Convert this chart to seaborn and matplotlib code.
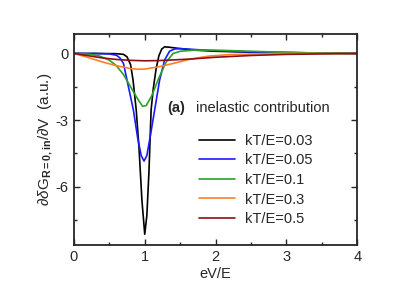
import numpy as np
import pandas as pd
import matplotlib
matplotlib.use("Agg")
import matplotlib.pyplot as plt
import seaborn as sns
from matplotlib.ticker import MultipleLocator

# ---- data ----
x_003 = [0, 0.3, 0.6, 0.7, 0.75, 0.8, 0.835, 0.88, 0.92, 0.96, 1.0, 1.03, 1.06, 1.09, 1.12, 1.16, 1.2, 1.24, 1.28, 1.35, 1.5, 1.7, 2.0, 2.5, 3.0, 3.5, 4.0]
y_003 = [0, 0, -0.01, -0.04, -0.15, -0.5, -1.2, -2.55, -4.3, -6.6, -8.15, -7.3, -5.3, -2.55, -1.6, -0.7, -0.1, 0.2, 0.3, 0.28, 0.22, 0.15, 0.1, 0.06, 0.04, 0.02, 0]

x_005 = [0, 0.3, 0.5, 0.6, 0.65, 0.7, 0.75, 0.84, 0.9, 0.95, 0.99, 1.03, 1.08, 1.14, 1.21, 1.28, 1.35, 1.42, 1.5, 1.7, 2.0, 2.5, 3.0, 3.5, 4.0]
y_005 = [0, 0, -0.02, -0.08, -0.2, -0.45, -1.2, -2.55, -3.8, -4.6, -4.85, -4.6, -3.7, -2.55, -1.2, -0.3, 0.1, 0.2, 0.22, 0.18, 0.12, 0.07, 0.04, 0.02, 0]

x_01 = [0, 0.2, 0.35, 0.5, 0.6, 0.7, 0.8, 0.9, 0.97, 1.02, 1.1, 1.2, 1.3, 1.4, 1.5, 1.7, 2.0, 2.5, 3.0, 3.5, 4.0]
y_01 = [0, -0.03, -0.1, -0.3, -0.55, -0.95, -1.5, -2.05, -2.38, -2.35, -1.9, -1.1, -0.4, 0.0, 0.1, 0.15, 0.15, 0.1, 0.05, 0.02, 0]

x_03 = [0, 0.2, 0.4, 0.6, 0.8, 0.9, 1.0, 1.2, 1.4, 1.65, 1.9, 2.2, 2.6, 3.0, 4.0]
y_03 = [0, -0.18, -0.38, -0.55, -0.68, -0.71, -0.7, -0.6, -0.45, -0.25, -0.12, -0.05, -0.02, 0, 0]

x_05 = [0, 0.2, 0.4, 0.6, 0.8, 1.0, 1.2, 1.4, 1.65, 2.0, 2.5, 3.0, 3.5, 4.0]
y_05 = [0, -0.1, -0.2, -0.27, -0.31, -0.33, -0.32, -0.29, -0.25, -0.17, -0.09, -0.04, -0.02, 0]

labels = ["kT/E=0.03", "kT/E=0.05", "kT/E=0.1", "kT/E=0.3", "kT/E=0.5"]
colors = ["#000000", "#1a1aff", "#2ca02c", "#ff7f27", "#8b1010"]
x_ticks = [0, 1, 2, 3, 4]
y_ticks = [0, -3, -6]

series = [(x_003, y_003), (x_005, y_005), (x_01, y_01), (x_03, y_03), (x_05, y_05)]
frames = []
for lab, (xs, ys) in zip(labels, series):
    frames.append(pd.DataFrame({"x": xs, "y": ys, "kT": lab}))
df = pd.concat(frames, ignore_index=True)

sns.set_style("ticks")
plt.rcParams['font.family'] = ['Liberation Sans', 'DejaVu Sans']
plt.rcParams['mathtext.fontset'] = 'custom'
plt.rcParams['mathtext.rm'] = 'Liberation Sans'
plt.rcParams['mathtext.it'] = 'Liberation Sans:italic'
plt.rcParams['mathtext.bf'] = 'Liberation Sans:bold'

fig = plt.figure(figsize=(4.15, 2.94), dpi=100)
ax = fig.add_axes([0.178, 0.167, 0.683, 0.719])

sns.lineplot(data=df, x="x", y="y", hue="kT", palette=colors, hue_order=labels,
             sort=False, estimator=None, linewidth=1.2, ax=ax)

ax.set_xlim(0, 4)
ax.set_ylim(-8.63, 0.9)
ax.set_xticks(x_ticks)
ax.set_yticks(y_ticks)
ax.set_xticklabels([str(v) for v in x_ticks])
ax.set_yticklabels([str(v) for v in y_ticks])
ax.xaxis.set_minor_locator(MultipleLocator(0.5))
ax.yaxis.set_minor_locator(MultipleLocator(1.5))
ax.tick_params(which='both', direction='in', top=True, right=True, width=1.0)
ax.tick_params(which='major', length=4, labelsize=10.5, pad=4)
ax.tick_params(which='minor', length=2.5)
for s in ax.spines.values():
    s.set_linewidth(1.3)

ax.set_xlabel("eV/E", fontsize=10.5, labelpad=2)
ax.set_ylabel(r"$\partial\delta\mathrm{G}_{\mathbf{R=0,in}}/\partial\mathrm{V}$  (a.u.)", fontsize=11, labelpad=0)

ax.text(0.328, 0.648, "(a)", transform=ax.transAxes, fontsize=10.5, fontweight='bold', va='center', ha='left')
ax.text(0.431, 0.648, "inelastic contribution", transform=ax.transAxes, fontsize=10.5, va='center', ha='left')

leg = ax.legend(loc='upper left', bbox_to_anchor=(0.44, 0.525), frameon=False, fontsize=10.5,
                handlelength=2.5, handletextpad=0.7, labelspacing=0.38, borderpad=0, borderaxespad=0)
for h in leg.get_lines():
    h.set_linewidth(1.2)

fig.savefig("out.png", dpi=100)
